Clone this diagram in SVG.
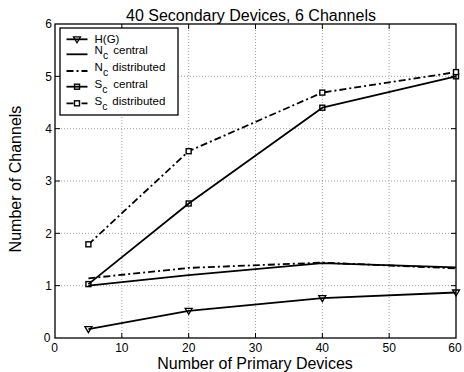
<svg xmlns="http://www.w3.org/2000/svg" width="464" height="372" viewBox="0 0 464 372">
  <style>
    text { font-family: "Liberation Sans", Arial, sans-serif; fill: #000; }
    .tick { font-size: 12px; }
    .lab { font-size: 16px; }
    .leg { font-size: 11.5px; }
    .sub { font-size: 10.5px; }
    .grid { stroke: #8a8a8a; stroke-width: 0.8; stroke-dasharray: 1 2; fill: none; }
    .axis { stroke: #000; stroke-width: 1.3; fill: none; }
    .tk { stroke: #000; stroke-width: 1; fill: none; }
    .solid { stroke: #000; stroke-width: 1.8; fill: none; stroke-linejoin: round; }
    .dashdot { stroke: #000; stroke-width: 1.8; fill: none; stroke-dasharray: 7 3 2 3; }
    .tri { stroke: #000; stroke-width: 1.3; fill: none; }
    .sq { stroke: #000; stroke-width: 1.4; fill: none; }
    .sqo { stroke: #000; stroke-width: 1.4; fill: #fff; }
  </style>
  <defs>
    <path id="mtri" d="M-3.5,-2.5 L3.5,-2.5 L0,3.5 Z" class="tri"/>
    <rect id="msq" x="-2.5" y="-2.5" width="5" height="5" class="sq"/>
    <rect id="msqo" x="-2.5" y="-2.5" width="5" height="5" class="sqo"/>
  </defs>

  <rect width="464" height="372" fill="#fff"/>

  <!-- grid -->
  <g id="grid">
    <path class="grid" d="M121.83,24V338 M188.67,24V338 M255.5,24V338 M322.33,24V338 M389.17,24V338"/>
    <path class="grid" d="M55,285.67H456 M55,233.33H456 M55,181H456 M55,128.67H456 M55,76.33H456"/>
  </g>

  <!-- axes box and ticks -->
  <g id="axes">
    <rect class="axis" x="55" y="24" width="401" height="314"/>
    <path class="tk" d="M121.83,338v-5 M188.67,338v-5 M255.5,338v-5 M322.33,338v-5 M389.17,338v-5
                        M121.83,24v5 M188.67,24v5 M255.5,24v5 M322.33,24v5 M389.17,24v5
                        M55,285.67h5 M55,233.33h5 M55,181h5 M55,128.67h5 M55,76.33h5
                        M456,285.67h-5 M456,233.33h-5 M456,181h-5 M456,128.67h-5 M456,76.33h-5"/>
    <g class="tick" text-anchor="middle">
      <text x="54.5" y="351.5">0</text>
      <text x="121.83" y="351.5">10</text>
      <text x="188.67" y="351.5">20</text>
      <text x="255.5" y="351.5">30</text>
      <text x="322.33" y="351.5">40</text>
      <text x="389.17" y="351.5">50</text>
      <text x="455" y="351.5">60</text>
    </g>
    <g class="tick" text-anchor="end">
      <text x="50.5" y="342">0</text>
      <text x="52" y="290">1</text>
      <text x="52" y="237.6">2</text>
      <text x="52" y="185.3">3</text>
      <text x="52" y="133">4</text>
      <text x="52" y="80.6">5</text>
      <text x="52" y="28.3">6</text>
    </g>
    <text class="lab" x="251" y="20.5" text-anchor="middle">40 Secondary Devices, 6 Channels</text>
    <text class="lab" x="255" y="369" text-anchor="middle">Number of Primary Devices</text>
    <text class="lab" transform="translate(21,179) rotate(-90)" text-anchor="middle">Number of Channels</text>
  </g>

  <!-- data series -->
  <g id="connectors">
    <polyline id="hg-line" class="solid" points="88.42,329.1 188.67,310.8 322.33,298.2 456,292.5"/>
    <polyline id="nc-central" class="solid" points="88.42,285.67 188.67,275.2 322.33,263.2 456,267.4"/>
    <polyline id="nc-distributed" class="dashdot" points="88.42,278.3 188.67,267.9 322.33,262.6 456,268.4"/>
    <polyline id="sc-central" class="solid" points="88.42,284.1 188.67,203.5 322.33,107.7 456,76.3"/>
    <polyline id="sc-distributed" class="dashdot" points="88.42,244.3 188.67,151.2 322.33,92.6 456,72.1"/>
  </g>

  <g id="hg-markers">
    <use href="#mtri" x="88.42" y="329.1"/>
    <use href="#mtri" x="188.67" y="310.8"/>
    <use href="#mtri" x="322.33" y="298.2"/>
    <use href="#mtri" x="456" y="292.5"/>
  </g>
  <g id="sc-central-markers">
    <use href="#msq" x="88.42" y="284.1"/>
    <use href="#msq" x="188.67" y="203.5"/>
    <use href="#msq" x="322.33" y="107.7"/>
    <use href="#msq" x="456" y="76.3"/>
  </g>
  <g id="sc-distributed-markers">
    <use href="#msqo" x="88.42" y="244.3"/>
    <use href="#msqo" x="188.67" y="151.2"/>
    <use href="#msqo" x="322.33" y="92.6"/>
    <use href="#msqo" x="456" y="72.1"/>
  </g>

  <!-- legend -->
  <g id="legend">
    <rect x="60" y="28" width="118" height="87" fill="#fff" stroke="#000" stroke-width="1.3"/>
    <path class="solid" d="M66.5,39.3H87.5"/>
    <use href="#mtri" x="77" y="39.3"/>
    <text class="leg" x="94.5" y="42.8">H(G)</text>

    <path class="solid" d="M66.5,54.3H87.5"/>
    <text class="leg" x="94.5" y="53.5">N</text>
    <text class="sub" x="103" y="58.8">c</text>
    <text class="leg" x="113.3" y="53.5">central</text>

    <path class="dashdot" d="M66.5,71H87.5"/>
    <text class="leg" x="94.5" y="70.5">N</text>
    <text class="sub" x="103" y="75.8">c</text>
    <text class="leg" x="112.3" y="70.5">distributed</text>

    <path class="solid" d="M66.5,86.7H87.5"/>
    <use href="#msq" x="77" y="86.7"/>
    <text class="leg" x="94.5" y="88">S</text>
    <text class="sub" x="102.3" y="93.3">c</text>
    <text class="leg" x="113.3" y="88">central</text>

    <path class="dashdot" d="M66.5,103.3H87.5"/>
    <use href="#msqo" x="77" y="103.3"/>
    <text class="leg" x="94.5" y="105">S</text>
    <text class="sub" x="102.3" y="110.3">c</text>
    <text class="leg" x="112.3" y="105">distributed</text>
  </g>
</svg>
